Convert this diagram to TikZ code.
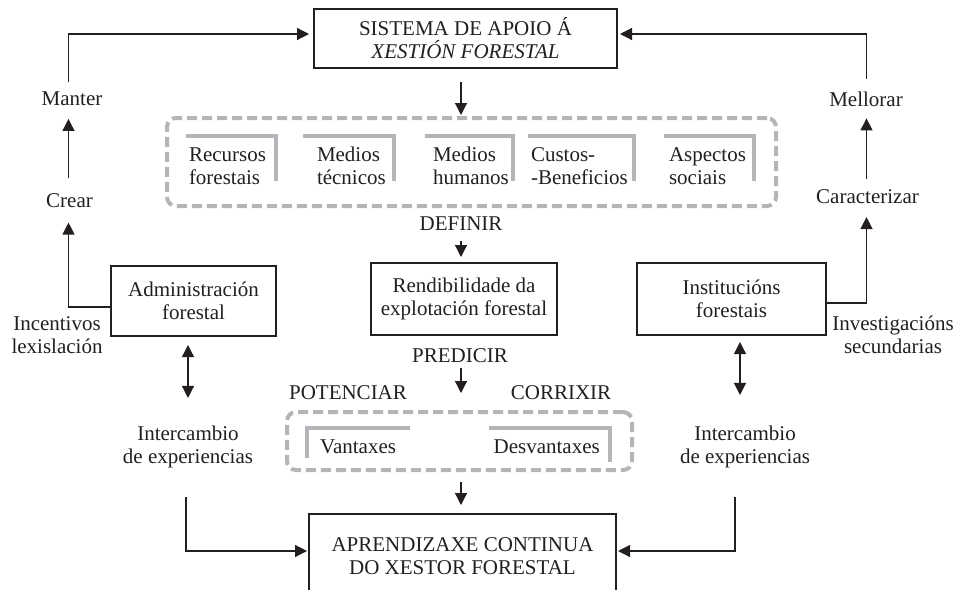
\documentclass[tikz,border=0pt]{standalone}
\usepackage{fontspec}
\setmainfont{Liberation Serif}
\usetikzlibrary{arrows.meta,calc}
\definecolor{ink}{RGB}{35,31,32}
\definecolor{lg}{RGB}{180,181,184}
\begin{document}
\begin{tikzpicture}[x=1pt,y=-1pt,
  every node/.style={font=\fontsize{21}{23}\selectfont, text=ink},
  boxnode/.style={draw=ink, line width=1.2pt, align=center, inner sep=0pt, outer sep=0pt},
  lbl/.style={inner sep=0pt, outer sep=0pt, align=center},
  itemtext/.style={inner sep=0pt, outer sep=0pt, align=left, anchor=west},
  arr/.style={draw=ink, line width=1.2pt, -{Triangle[length=12pt,width=12pt]}},
  dbl/.style={draw=ink, line width=1.2pt, {Triangle[length=12pt,width=12pt]}-{Triangle[length=12pt,width=12pt]}},
  dashbox/.style={draw=lg, line width=4pt, dash pattern=on 10pt off 5pt, rounded corners=9pt, inner sep=0pt, outer sep=0pt},
  brk/.style={draw=lg, line width=4pt}
]
\useasboundingbox (0,0) rectangle (960,589);
\clip (0,0) rectangle (960,589);

% main column
\node[boxnode, minimum width=303pt, minimum height=59pt] (top) at (465.5,38.5) {SISTEMA DE APOIO Á\\\textit{XESTIÓN FORESTAL}};
\node[dashbox, minimum width=609pt, minimum height=88pt] (d1) at (471.5,162) {};
\node[itemtext] (i1) at (189,166) {Recursos\\forestais};
\node[itemtext] (i2) at (317,166) {Medios\\técnicos};
\node[itemtext] (i3) at (433,166) {Medios\\humanos};
\node[itemtext] (i4) at (531,166) {Custos-\\-Beneficios};
\node[itemtext] (i5) at (669,166) {Aspectos\\sociais};
\draw[brk] (186,136) -- (276,136) -- (276,181);
\draw[brk] (303,136) -- (394,136) -- (394,181);
\draw[brk] (425,136) -- (513,136) -- (513,181);
\draw[brk] (528,136) -- (634,136) -- (634,181);
\draw[brk] (664,136) -- (754,136) -- (754,181);

\node[lbl] (def) at (461,224) {DEFINIR};
\node[boxnode, minimum width=186pt, minimum height=72pt] (rend) at (464,299) {Rendibilidade da\\explotación forestal};
\node[lbl] (pred) at (460,355.5) {PREDICIR};
\node[lbl] (pot) at (348,393) {POTENCIAR};
\node[lbl] (cor) at (561,393) {CORRIXIR};
\node[dashbox, minimum width=345pt, minimum height=58pt] (d2) at (459.5,441) {};
\node[inner sep=0pt, anchor=base west] (van) at (320,453) {Vantaxes};
\node[inner sep=0pt, anchor=base east] (des) at (600,453) {Desvantaxes};
\draw[brk] (307,458) -- (307,428) -- (410,428);
\draw[brk] (489,428) -- (610,428) -- (610,462);
\node[boxnode, minimum width=307pt, minimum height=84pt] (bot) at (462.5,556) {APRENDIZAXE CONTINUA\\DO XESTOR FORESTAL};

% side boxes
\node[boxnode, minimum width=165pt, minimum height=70pt] (adm) at (193.5,301) {Administración\\forestal};
\node[boxnode, minimum width=189pt, minimum height=72pt] (inst) at (731.5,299) {Institucións\\forestais};

% labels
\node[lbl] (man) at (72,99) {Manter};
\node[lbl] (cre) at (69.5,200.5) {Crear};
\node[lbl] (mel) at (866,99) {Mellorar};
\node[lbl] (car) at (867.5,197) {Caracterizar};
\node[lbl] (inc) at (57,335.5) {Incentivos\\lexislación};
\node[lbl] (inv) at (893,335) {Investigacións\\secundarias};
\node[lbl] (intL) at (188,447) {Intercambio\\de experiencias};
\node[lbl] (intR) at (745,447) {Intercambio\\de experiencias};

% guide coordinates
\coordinate (lx) at (68.5,0);
\coordinate (rx) at (866.5,0);
\coordinate (cx) at (461,0);
\coordinate (rdx) at (740,0);
\coordinate (llx) at (186,0);
\coordinate (rlx) at (735,0);

% left chain
\draw[arr, shorten <=10pt, shorten >=5pt] (man.north -| lx) |- ([yshift=4.5pt]top.west);
\draw[arr, shorten <=15pt, shorten >=13pt] (cre.north -| lx) -- (man.south -| lx);
\draw[arr, shorten >=15pt] ([yshift=-6pt]adm.west) -| (cre.south -| lx);

% right chain
\draw[arr, shorten <=13pt, shorten >=3pt] (mel.north -| rx) |- ([yshift=4.5pt]top.east);
\draw[arr, shorten <=11pt, shorten >=12pt] (car.north -| rx) -- (mel.south -| rx);
\draw[arr, shorten >=13pt] ([yshift=-4pt]inst.east) -| (car.south -| rx);

% centre column
\draw[arr, shorten <=14pt, shorten >=3pt] (top.south -| cx) -- (d1.north -| cx);
\draw[arr, shorten <=10pt, shorten >=6pt] (def.south -| cx) -- (rend.north -| cx);
\draw[arr, shorten <=5pt, shorten >=19pt] (pred.south -| cx) -- (d2.north -| cx);
\draw[arr, shorten <=12pt, shorten >=9pt] (d2.south -| cx) -- (bot.north -| cx);

% exchanges
\draw[dbl, shorten <=9pt, shorten >=28pt] (adm.south -| intL) -- (intL.north);
\draw[dbl, shorten <=7pt, shorten >=31pt] (inst.south -| rdx) -- (intR.north -| rdx);
\draw[arr, shorten <=29pt, shorten >=2pt] (intL.south -| llx) |- ([yshift=5pt]bot.west);
\draw[arr, shorten <=29pt, shorten >=2pt] (intR.south -| rlx) |- ([yshift=5pt]bot.east);
\end{tikzpicture}
\end{document}
